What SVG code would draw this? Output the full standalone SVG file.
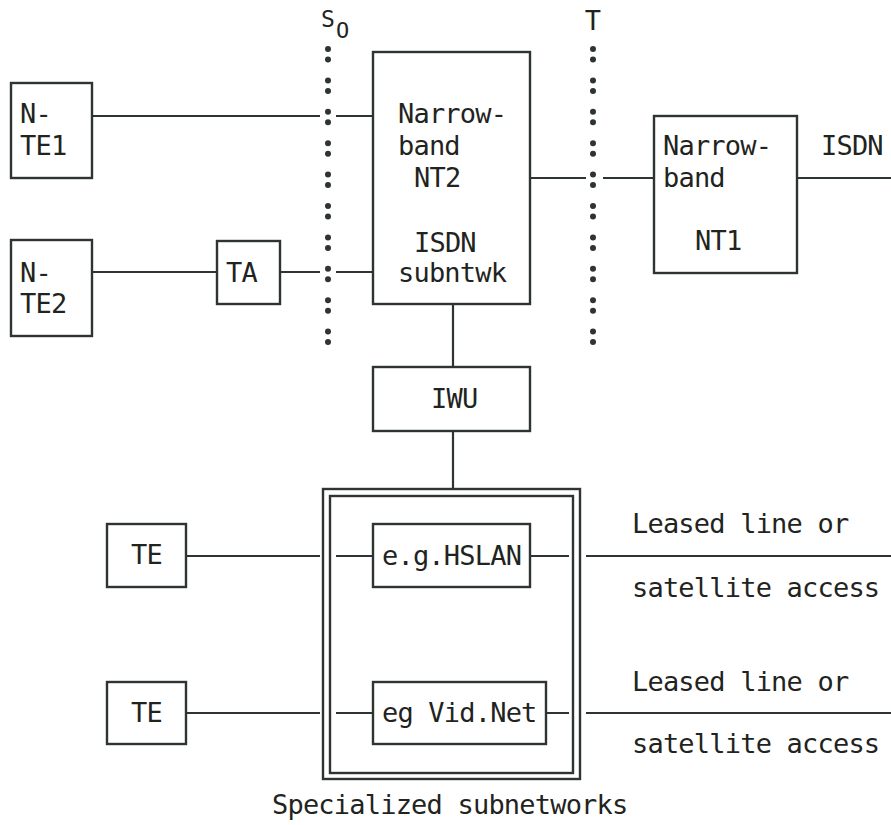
<svg xmlns="http://www.w3.org/2000/svg" width="891" height="825" viewBox="0 0 891 825">
  <style>
    .box { fill: none; stroke: #2d3431; stroke-width: 2.4; }
    .wire { fill: none; stroke: #2d3431; stroke-width: 2.2; }
    .ref { fill: none; stroke: #2d3431; stroke-width: 6; stroke-linecap: round; stroke-dasharray: 0 10.5 0 20.9; }
    text { font-family: "DejaVu Sans Mono", "Liberation Mono", monospace; font-size: 27px; letter-spacing: -0.8px; fill: #1f2421; }
  </style>
  <rect width="891" height="825" fill="#ffffff"/>

  <!-- reference points S0 and T -->
  <g id="ref-S0">
    <path class="ref" d="M328 49 V343"/>
    <text x="321" y="27" style="font-size:23px;letter-spacing:0">S</text>
    <text x="336" y="38" style="font-size:22px;letter-spacing:0">O</text>
  </g>
  <g id="ref-T">
    <path class="ref" d="M593 49 V343"/>
    <text x="593" y="30" text-anchor="middle" style="font-size:27px;letter-spacing:0">T</text>
  </g>

  <!-- connectors -->
  <g id="connectors">
    <path class="wire" d="M92 116 H320 M336 116 H373"/>
    <path class="wire" d="M92 272 H217 M280 272 H320 M336 272 H373"/>
    <path class="wire" d="M530 178 H586 M603 178 H654"/>
    <path class="wire" d="M797 178 H891"/>
    <path class="wire" d="M453 304 V367 M453 431 V489"/>
    <path class="wire" d="M186 556 H320 M336 556 H373 M530 556 H569 M586 556 H891"/>
    <path class="wire" d="M186 713 H320 M336 713 H373 M546 713 H569 M586 713 H891"/>
  </g>

  <g id="n-te1">
    <rect class="box" x="11" y="83" width="81" height="95"/>
    <text x="20" y="123">N-</text>
    <text x="20" y="155">TE1</text>
  </g>
  <g id="n-te2">
    <rect class="box" x="11" y="240" width="81" height="96"/>
    <text x="20" y="282">N-</text>
    <text x="20" y="313">TE2</text>
  </g>
  <g id="ta">
    <rect class="box" x="217" y="241" width="63" height="63"/>
    <text x="226" y="282">TA</text>
  </g>
  <g id="nt2">
    <rect class="box" x="373" y="52" width="157" height="252"/>
    <text x="398" y="123">Narrow-</text>
    <text x="398" y="155">band</text>
    <text x="414" y="187">NT2</text>
    <text x="414" y="252">ISDN</text>
    <text x="398" y="282">subntwk</text>
  </g>
  <g id="nt1">
    <rect class="box" x="654" y="116" width="143" height="157"/>
    <text x="663" y="155">Narrow-</text>
    <text x="663" y="187">band</text>
    <text x="695" y="250">NT1</text>
  </g>
  <g id="isdn-label">
    <text x="821" y="155">ISDN</text>
  </g>
  <g id="iwu">
    <rect class="box" x="373" y="367" width="157" height="64"/>
    <text x="431" y="408">IWU</text>
  </g>

  <!-- specialized subnetworks: double frame -->
  <g id="subnetworks">
    <rect class="box" x="323" y="489" width="257" height="290"/>
    <rect class="box" x="330" y="496" width="243" height="277"/>
    <text x="272" y="814">Specialized subnetworks</text>
  </g>
  <g id="hslan">
    <rect class="box" x="373" y="524" width="157" height="63"/>
    <text x="382" y="565">e.g.HSLAN</text>
  </g>
  <g id="vidnet">
    <rect class="box" x="373" y="682" width="173" height="62"/>
    <text x="382" y="722">eg Vid.Net</text>
  </g>
  <g id="te1">
    <rect class="box" x="107" y="524" width="79" height="63"/>
    <text x="131" y="564">TE</text>
  </g>
  <g id="te2">
    <rect class="box" x="107" y="682" width="79" height="62"/>
    <text x="131" y="722">TE</text>
  </g>

  <g id="access-labels">
    <text x="632" y="533">Leased line or</text>
    <text x="632" y="597">satellite access</text>
    <text x="632" y="691">Leased line or</text>
    <text x="632" y="753">satellite access</text>
  </g>
</svg>
